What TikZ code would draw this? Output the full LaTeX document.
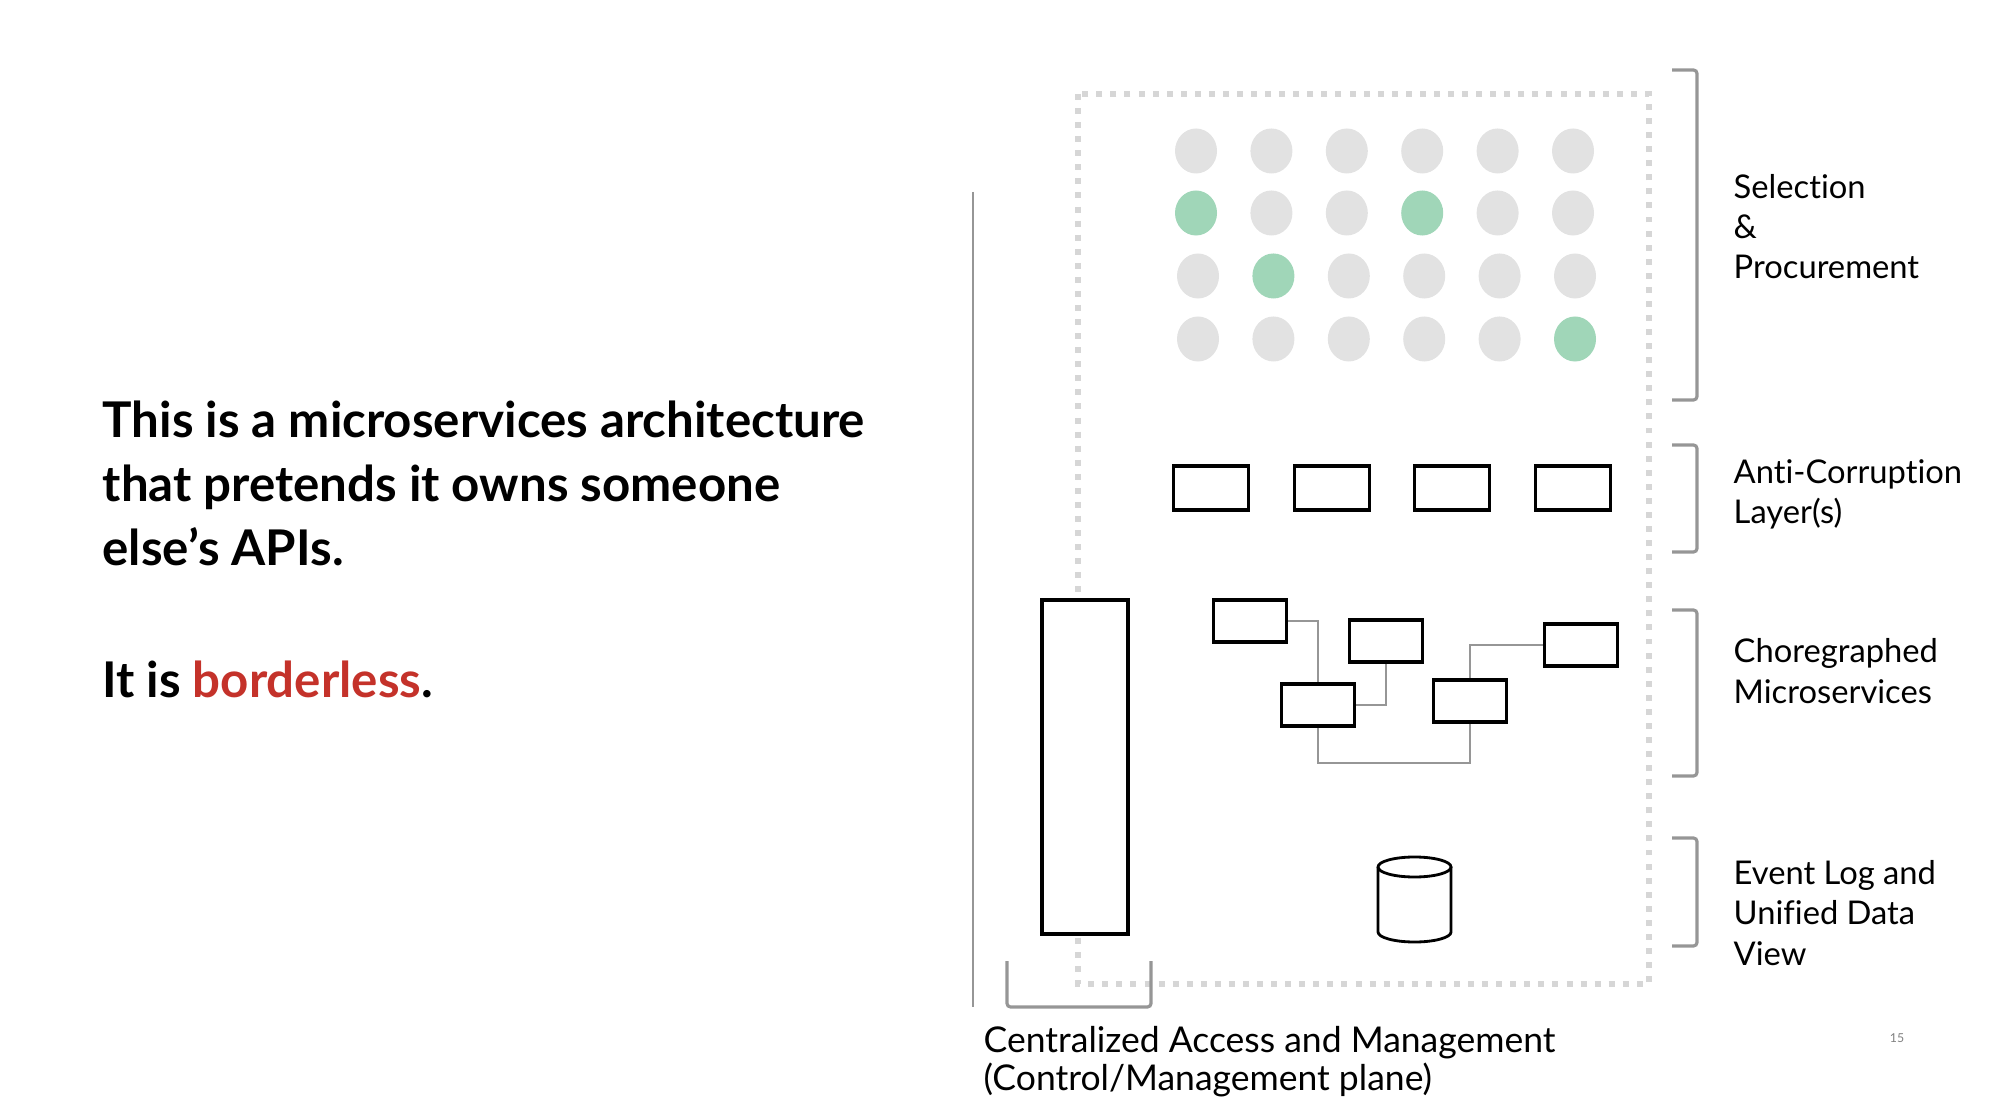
\documentclass[tikz,border=0pt]{standalone}
\usepackage{fontspec}
\setmainfont{Lato}[Ligatures=CommonOff]
\usetikzlibrary{shapes.geometric}

\definecolor{dotgray}{RGB}{226,226,226}
\definecolor{dotgreen}{RGB}{160,214,184}
\definecolor{hotred}{RGB}{196,50,42}
\definecolor{rulegray}{RGB}{150,150,150}
\definecolor{framegray}{RGB}{214,214,214}

\tikzset{
  dot/.style={ellipse, minimum width=0.42cm, minimum height=0.45cm, inner sep=0pt},
  idle/.style={fill=dotgray},
  picked/.style={fill=dotgreen},
  svcbox/.style={draw, fill=white, line width=1.1pt, minimum width=0.73cm, minimum height=0.42cm, inner sep=0pt},
  wire/.style={draw=rulegray, line width=0.5pt},
  layerbrace/.style={draw=rulegray, line width=0.9pt, rounded corners=1pt},
  sidelabel/.style={anchor=base west, align=left, inner sep=0pt, font=\fontsize{9.3}{11.4}\selectfont},
  bigtext/.style={anchor=base west, align=left, inner sep=0pt, font=\fontsize{14}{18.2}\selectfont\bfseries},
}

\begin{document}
\begin{tikzpicture}[x=0.01cm, y=-0.01cm]
  \useasboundingbox (0,0) rectangle (2004,1104);

  % left text (base = last line)
  \node[bigtext] (blurb) at (102,566)
    {This is a microservices architecture\\that pretends it owns someone\\else’s APIs.};
  \node[bigtext] (claim) at (102,697) {It is \textcolor{hotred}{borderless}.};

  % borders
  \draw[framegray, line width=1.7pt, dash pattern=on 1.7pt off 2.3pt] (1078,94) rectangle (1649,984);
  \draw[rulegray, line width=0.6pt] (973,192) -- (973,1007);
  \draw[layerbrace] (1007,961) -- (1007,1007) -- (1151,1007) -- (1151,961);

  % selection grid
  \foreach \r/\yy/\sh/\cols in {1/151/0/{idle,idle,idle,idle,idle,idle},
                                2/213/0/{picked,idle,idle,picked,idle,idle},
                                3/276/2/{idle,picked,idle,idle,idle,idle},
                                4/339/2/{idle,idle,idle,idle,idle,picked}}
    \foreach \k [count=\c] in \cols
      \node[dot, \k] (dot-\r-\c) at ({1196+(\c-1)*75.4+\sh},\yy) {};

  % anti-corruption layer
  \foreach \i/\xx in {1/1211, 2/1332, 3/1452, 4/1573}
    \node[svcbox, minimum width=0.75cm, minimum height=0.44cm] (acl\i) at (\xx,488) {};

  % control plane
  \node[svcbox, minimum width=0.86cm, minimum height=3.33cm] (control) at (1085,767) {};

  % microservices
  \node[svcbox] (msA) at (1250,621) {};
  \node[svcbox] (msB) at (1386,641) {};
  \node[svcbox] (msC) at (1318,705) {};
  \node[svcbox] (msD) at (1470,701) {};
  \node[svcbox] (msE) at (1581,645) {};
  \coordinate (bus) at (1400,763);

  \draw[wire] (msA.east) -| (msC.north);
  \draw[wire] (msB.south) |- (msC.east);
  \draw[wire] (msC.south) |- (bus) -| (msD.south);
  \draw[wire] (msD.north) |- (msE.west);

  % event log
  \draw[line width=0.8pt, fill=white] (1378,867) -- (1378,932)
    arc[start angle=180, end angle=360, x radius=0.365cm, y radius=0.1cm] -- (1451,867);
  \draw[line width=0.8pt] (1414.5,867) ellipse[x radius=0.365cm, y radius=0.1cm];

  % layer braces
  \draw[layerbrace] (1672,70) -- (1697,70) -- (1697,400) -- (1672,400);
  \draw[layerbrace] (1672,445) -- (1697,445) -- (1697,552) -- (1672,552);
  \draw[layerbrace] (1672,610) -- (1697,610) -- (1697,776) -- (1672,776);
  \draw[layerbrace] (1672,838) -- (1697,838) -- (1697,946) -- (1672,946);

  \node[sidelabel] (sel) at (1733,279) {Selection\\\&\\Procurement};
  \node[sidelabel] (acl) at (1733,524) {Anti-Corruption\\Layer(s)};
  \node[sidelabel] (chor) at (1733,703) {Choregraphed\\Microservices};
  \node[sidelabel] (evt) at (1733,965) {Event Log and\\Unified Data\\View};

  \node[sidelabel, font=\fontsize{10.1}{10.8}\selectfont] (ctrl) at (983,1090)
    {Centralized Access and Management\\(Control/Management plane)};
  \node[anchor=base, font=\fontsize{3.5}{4}\selectfont, text=gray] (pageno) at (1897,1042) {15};
\end{tikzpicture}
\end{document}
